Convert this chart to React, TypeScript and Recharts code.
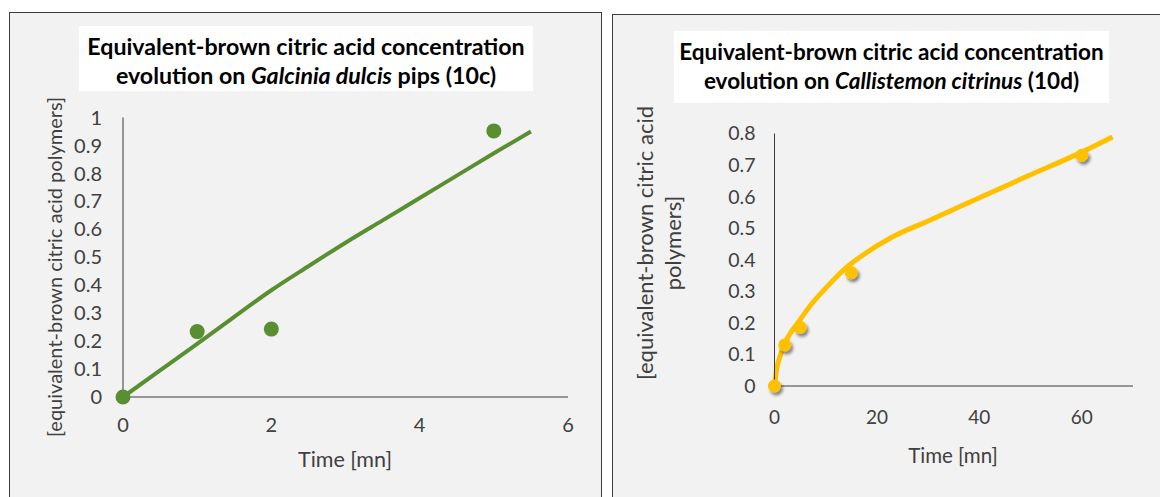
import React from 'react';
import { ComposedChart, Line, Scatter, XAxis, YAxis } from 'recharts';

// ---- Left chart (10c) ----
const leftPointX = [0, 1, 2, 5];
const leftPointY = [0, 0.234, 0.243, 0.952];
const leftTrendX = [0, 0.5, 1, 1.5, 2, 2.5, 3, 3.5, 4, 4.5, 5, 5.5];
const leftTrendY = [0, 0.095, 0.19, 0.287, 0.382, 0.468, 0.552, 0.632, 0.712, 0.792, 0.872, 0.95];
const leftXTicks = [0, 2, 4, 6];
const leftYTicks = [0, 0.1, 0.2, 0.3, 0.4, 0.5, 0.6, 0.7, 0.8, 0.9, 1];

// ---- Right chart (10d) ----
const rightPointX = [0, 2, 5, 15, 60];
const rightPointY = [0, 0.13, 0.186, 0.359, 0.731];
const rightTrendX = [0, 0.5, 1, 2, 3, 5, 7, 10, 14, 17, 23, 30, 36, 49, 60, 66];
const rightTrendY = [0, 0.06, 0.09, 0.135, 0.165, 0.21, 0.255, 0.31, 0.375, 0.412, 0.472, 0.523, 0.567, 0.662, 0.741, 0.789];
const rightXTicks = [0, 20, 40, 60];
const rightYTicks = [0, 0.1, 0.2, 0.3, 0.4, 0.5, 0.6, 0.7, 0.8];

const toRows = (xs: number[], ys: number[]) => xs.map((x, i) => ({ x, y: ys[i] }));

const leftPoints = toRows(leftPointX, leftPointY);
const leftTrend = toRows(leftTrendX, leftTrendY);
const rightPoints = toRows(rightPointX, rightPointY);
const rightTrend = toRows(rightTrendX, rightTrendY);

const GREEN = '#5a8f31';
const GOLD = '#ffc000';
const FONT = 'Lato, Carlito, "Open Sans", sans-serif';
const TEXT = '#404040';
const AXIS = '#3a3a3a';

const fmt = (v: number) => String(Math.round(v * 10) / 10);

export default function App() {
  return (
    <div
      style={{
        position: 'absolute',
        left: 0,
        top: 0,
        width: 1160,
        height: 497,
        background: '#ffffff',
        overflow: 'hidden',
        fontFamily: FONT,
      }}
    >
      <svg width={0} height={0} style={{ position: 'absolute' }}>
        <defs>
          <filter id="goldShadow" x="-100%" y="-100%" width="300%" height="300%">
            <feDropShadow dx="2" dy="3" stdDeviation="1.6" floodColor="#000" floodOpacity="0.45" />
          </filter>
        </defs>
      </svg>

      {/* Left panel */}
      <div
        style={{
          position: 'absolute',
          left: 9,
          top: 12,
          width: 593,
          height: 520,
          background: '#f2f2f2',
          border: '1.5px solid #3c3c3c',
          boxSizing: 'border-box',
        }}
      />
      {/* Right panel */}
      <div
        style={{
          position: 'absolute',
          left: 612,
          top: 14,
          width: 600,
          height: 520,
          background: '#f2f2f2',
          border: '1.5px solid #3c3c3c',
          boxSizing: 'border-box',
        }}
      />

      {/* Left title */}
      <div
        style={{
          position: 'absolute',
          left: 79,
          top: 26,
          width: 454,
          height: 65,
          background: '#ffffff',
          textAlign: 'center',
          fontWeight: 700,
          fontSize: 23.2,
          lineHeight: '29px',
          paddingTop: 6,
          boxSizing: 'border-box',
          color: '#000',
          whiteSpace: 'nowrap',
        }}
      >
        <div>Equivalent-brown citric acid concentration</div>
        <div>
          evolution on <i>Galcinia dulcis</i> pips (10c)
        </div>
      </div>

      {/* Right title */}
      <div
        style={{
          position: 'absolute',
          left: 674,
          top: 31,
          width: 435,
          height: 72,
          background: '#ffffff',
          textAlign: 'center',
          fontWeight: 700,
          fontSize: 22.5,
          lineHeight: '29px',
          paddingTop: 6,
          boxSizing: 'border-box',
          color: '#000',
          whiteSpace: 'nowrap',
        }}
      >
        <div>Equivalent-brown citric acid concentration</div>
        <div>
          evolution on <i>Callistemon citrinus</i> (10d)
        </div>
      </div>

      {/* Left Y label */}
      <div
        style={{
          position: 'absolute',
          left: 54,
          top: 267,
          transform: 'translate(-50%, -50%) rotate(-90deg)',
          whiteSpace: 'nowrap',
          fontSize: 20,
          color: TEXT,
          lineHeight: '24px',
        }}
      >
        [equivalent-brown citric acid polymers]
      </div>

      {/* Right Y label */}
      <div
        style={{
          position: 'absolute',
          left: 659,
          top: 243,
          transform: 'translate(-50%, -50%) rotate(-90deg)',
          whiteSpace: 'nowrap',
          fontSize: 22,
          color: TEXT,
          lineHeight: '28px',
          textAlign: 'center',
        }}
      >
        <div>[equivalent-brown citric acid</div>
        <div>polymers]</div>
      </div>

      {/* Left X label */}
      <div
        style={{
          position: 'absolute',
          left: 345,
          top: 459,
          transform: 'translate(-50%, -50%)',
          whiteSpace: 'nowrap',
          fontSize: 21.5,
          color: TEXT,
        }}
      >
        Time [mn]
      </div>

      {/* Right X label */}
      <div
        style={{
          position: 'absolute',
          left: 953,
          top: 455,
          transform: 'translate(-50%, -50%)',
          whiteSpace: 'nowrap',
          fontSize: 20.5,
          color: TEXT,
        }}
      >
        Time [mn]
      </div>

      {/* Left chart */}
      <div style={{ position: 'absolute', left: 0, top: 0 }}>
        <ComposedChart
          width={603}
          height={497}
          margin={{ top: 117.5, right: 35, bottom: 40, left: 63 }}
        >
          <XAxis
            type="number"
            dataKey="x"
            domain={[0, 6]}
            ticks={leftXTicks}
            interval={0}
            height={60}
            axisLine={{ stroke: AXIS, strokeWidth: 1 }}
            tickLine={false}
            tickSize={0}
            tickMargin={21}
            tick={{ fill: TEXT, fontSize: 20, fontFamily: FONT }}
          />
          <YAxis
            type="number"
            dataKey="y"
            domain={[0, 1]}
            ticks={leftYTicks}
            interval={0}
            width={60}
            axisLine={{ stroke: AXIS, strokeWidth: 1 }}
            tickLine={false}
            tickSize={0}
            tickMargin={21}
            tickFormatter={fmt}
            tick={{ fill: TEXT, fontSize: 20, fontFamily: FONT }}
          />
          <Line
            data={leftTrend}
            dataKey="y"
            type="monotone"
            stroke={GREEN}
            strokeWidth={4}
            dot={false}
            activeDot={false}
            isAnimationActive={false}
          />
          <Scatter
            data={leftPoints}
            dataKey="y"
            fill={GREEN}
            isAnimationActive={false}
            shape={(p: any) => <circle cx={p.cx} cy={p.cy} r={7.5} fill={GREEN} />}
          />
        </ComposedChart>
      </div>

      {/* Right chart */}
      <div style={{ position: 'absolute', left: 603, top: 0 }}>
        <ComposedChart
          width={557}
          height={497}
          margin={{ top: 133.5, right: 27, bottom: 51, left: 111.5 }}
        >
          <XAxis
            type="number"
            dataKey="x"
            domain={[0, 70]}
            ticks={rightXTicks}
            interval={0}
            height={60}
            axisLine={{ stroke: AXIS, strokeWidth: 1 }}
            tickLine={false}
            tickSize={0}
            tickMargin={25}
            tick={{ fill: TEXT, fontSize: 19, fontFamily: FONT }}
          />
          <YAxis
            type="number"
            dataKey="y"
            domain={[0, 0.8]}
            ticks={rightYTicks}
            interval={0}
            width={60}
            axisLine={{ stroke: AXIS, strokeWidth: 1 }}
            tickLine={false}
            tickSize={0}
            tickMargin={19}
            tickFormatter={fmt}
            tick={{ fill: TEXT, fontSize: 19.5, fontFamily: FONT }}
          />
          <Line
            data={rightTrend}
            dataKey="y"
            type="monotone"
            stroke={GOLD}
            strokeWidth={5}
            dot={false}
            activeDot={false}
            isAnimationActive={false}
          />
          <Scatter
            data={rightPoints}
            dataKey="y"
            fill={GOLD}
            isAnimationActive={false}
            shape={(p: any) => (
              <circle cx={p.cx} cy={p.cy} r={6.5} fill={GOLD} filter="url(#goldShadow)" />
            )}
          />
        </ComposedChart>
      </div>
    </div>
  );
}
